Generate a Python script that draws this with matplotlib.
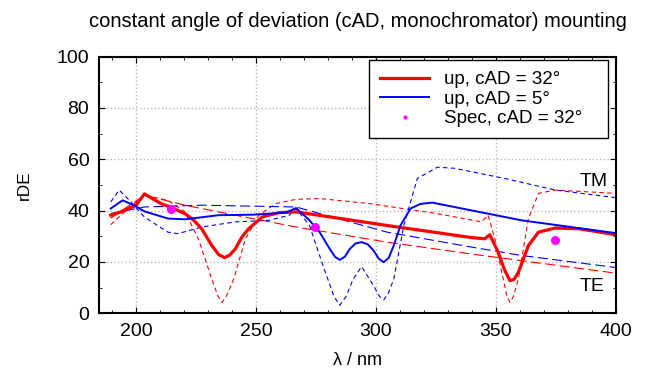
import numpy as np
import matplotlib
matplotlib.use('Agg')
import matplotlib.pyplot as plt
from matplotlib.ticker import MultipleLocator

plt.rcParams['font.family'] = ['Liberation Sans', 'DejaVu Sans']

# up, cAD = 32 deg (thick red)
red_x = [189.5, 193.7, 200, 203.5, 210.5, 214.7, 220.4, 224, 227.4, 231.6, 234.5, 236.9, 239, 241.4,
         244, 247, 252.6, 259.6, 266.7, 304.6, 339.6, 345.3, 347.4, 350.9, 353.5, 355.8, 357.5, 359.3,
         363.5, 367.7, 374.7, 384.6, 400]
red_y = [38.2, 39.5, 42, 46.5, 42.7, 41.2, 38.8, 36.3, 32.9, 26.4, 22.8, 21.7, 22.6, 25.1,
         29.5, 33, 37.5, 39.2, 39.5, 34.2, 29.5, 29, 30.6, 23.8, 17, 12.7, 13.2, 15.9,
         26.4, 31.6, 33.2, 32.9, 30.6]

# up, cAD = 5 deg (blue)
blue_x = [189.5, 194.4, 199.3, 203.5, 213.3, 220.4, 234.4, 248.4, 262.5, 266.7, 272.3, 276.5, 280.7,
          283, 284.9, 287, 289.1, 291.5, 294, 296.5, 299, 301.2, 303.2, 305.3, 307.4, 310.2, 314.4,
          318.5, 323.5, 339.6, 360.7, 400]
blue_y = [40.8, 44, 42, 39.7, 36.9, 36.6, 38.2, 38.4, 39.2, 41, 36.2, 31.6, 25.1,
          21.9, 20.8, 22, 25.1, 27.2, 27.7, 26.9, 24.4, 21.2, 19.9, 21.6, 26.4, 34.2, 40.8,
          42.6, 43.1, 40.1, 36.2, 31.2]

# red TM (short dashes)
red_tm_x = [189.5, 193.7, 200, 203.5, 213.3, 220.4, 226, 231.6, 234, 235.8, 237.6, 240.7, 245.6,
            251.2, 258.2, 266.7, 276.5, 297.5, 325.6, 343.9, 346.7, 349.5, 353, 354.5, 355.8, 357.2,
            359.3, 363.5, 367.7, 374.7, 400]
red_tm_y = [34.5, 38.2, 43.4, 46, 44, 39.5, 29, 13.3, 7, 4.2, 6.5, 13.3, 29,
            38.2, 42.7, 44.4, 44.7, 42.7, 38.8, 35.6, 38.2, 29, 13.3, 7, 4.2, 6.5,
            13.3, 36.9, 46.7, 48, 46.7]

# red TE (long dashes)
red_te_x = [189.5, 203.5, 220.4, 241.4, 266.7, 304.6, 339.6, 367.7, 400]
red_te_y = [37, 46, 42.1, 38.2, 33.6, 27.7, 23.1, 19.6, 15.6]

# blue TM (short dashes)
blue_tm_x = [189.5, 193, 197.9, 203.5, 213.3, 217.5, 227.4, 241.4, 255.4, 263.9, 266.7, 272.3, 277.9,
             282.5, 284.9, 287.5, 290.5, 294, 299, 301.5, 303.2, 305, 307.4, 311.6, 317.2, 325.6,
             332.6, 353.7, 374.7, 400]
blue_tm_y = [43.4, 48, 43.4, 37.5, 31.6, 31, 33.6, 35.6, 36.2, 38.2, 40.8, 34.2, 18.6,
             6.5, 3.1, 6.5, 13.3, 18.2, 10.7, 6.5, 5.2, 7.5, 13.3, 34.2, 52.5, 56.9,
             56.5, 52.5, 48, 45]

# blue TE (long dashes)
blue_te_x = [189.5, 203.5, 227.4, 266.7, 304.6, 339.6, 360.7, 400]
blue_te_y = [38.8, 41.4, 42.1, 41.4, 31.6, 25.8, 22.5, 17.8]

# Spec, cAD = 32 deg
spec_x = [214.7, 274.7, 374.7]
spec_y = [40.5, 33.5, 28.4]

fig = plt.figure(figsize=(6.45, 3.72), dpi=100)
ax = fig.add_axes([0.1535, 0.158, 0.8016, 0.6898])

ax.plot(red_tm_x, red_tm_y, color='red', lw=0.8, dashes=(4, 3))
ax.plot(red_te_x, red_te_y, color='red', lw=0.8, dashes=(9, 4))
ax.plot(blue_tm_x, blue_tm_y, color='blue', lw=0.8, dashes=(4, 3))
ax.plot(blue_te_x, blue_te_y, color='blue', lw=0.8, dashes=(9, 4))
ax.plot(red_x, red_y, color='red', lw=2.3, label='up, cAD = 32°')
ax.plot(blue_x, blue_y, color='blue', lw=1.4, label='up, cAD = 5°')
ax.plot(spec_x, spec_y, 'o', color='magenta', ms=6.5, mec='none', label='Spec, cAD = 32°')

ax.text(390.5, 51.5, 'TM', fontsize=14, ha='center', va='center')
ax.text(390, 10.5, 'TE', fontsize=14, ha='center', va='center')

ax.set_xlim(184.6, 400)
ax.set_ylim(0, 100)
ax.xaxis.set_major_locator(MultipleLocator(50))
ax.xaxis.set_minor_locator(MultipleLocator(10))
ax.yaxis.set_major_locator(MultipleLocator(20))
ax.yaxis.set_minor_locator(MultipleLocator(10))
ax.tick_params(which='both', direction='in', top=True, right=True, labelsize=14, pad=7)
ax.tick_params(which='major', length=4)
ax.tick_params(which='minor', length=2.5)
ax.grid(True, which='major', color='#b8b8b8', linestyle=':', lw=1.0)
for s in ax.spines.values():
    s.set_linewidth(1.5)

ax.set_xlabel('λ / nm', fontsize=13)
ax.xaxis.set_label_coords(0.5, -0.15)
ax.set_ylabel('rDE', fontsize=12.5)
ax.yaxis.set_label_coords(-0.129, 0.5)
fig.text(0.555, 0.941, 'constant angle of deviation (cAD, monochromator) mounting',
         fontsize=14.5, ha='center', va='center')

leg = ax.legend(loc='upper left', bbox_to_anchor=(0.522, 0.0, 0.462, 0.987), mode='expand',
                borderaxespad=0, fontsize=13.5, fancybox=False, framealpha=1, edgecolor='black',
                borderpad=0.6, handlelength=2.6, handletextpad=0.8, markerscale=0.45,
                labelspacing=0.12)
leg.get_frame().set_linewidth(1.0)

fig.savefig('out.png', dpi=100)
